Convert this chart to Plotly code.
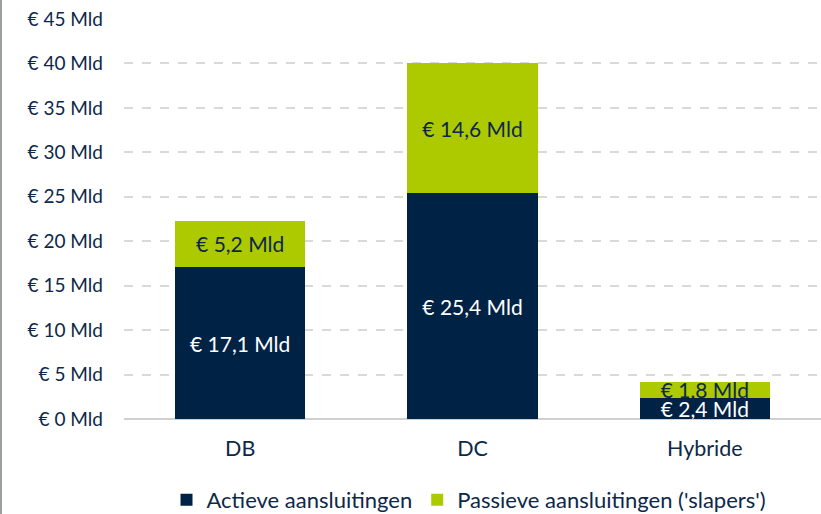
import plotly.graph_objects as go

categories = ["DB", "DC", "Hybride"]
actief = [17.1, 25.4, 2.4]
passief = [5.2, 14.6, 1.8]
series_names = ["Actieve aansluitingen", "Passieve aansluitingen ('slapers')"]
tick_vals = [0, 5, 10, 15, 20, 25, 30, 35, 40, 45]
tick_text = [f"€ {v} Mld" for v in tick_vals]

def fmt(v):
    return "€ " + f"{v:.1f}".replace(".", ",") + " Mld"

NAVY = "#002245"
GREEN = "#adca00"
TEXT = "#0d2849"
FONT = "Lato"

fig = go.Figure()
fig.add_trace(go.Bar(
    x=categories, y=actief, name=series_names[0],
    marker=dict(color=NAVY, line=dict(width=0)),
    text=[fmt(v) for v in actief], textposition="inside",
    insidetextanchor="middle",
    textfont=dict(color="white", size=21, family=FONT),
    width=0.56,
))
fig.add_trace(go.Bar(
    x=categories, y=passief, name=series_names[1],
    marker=dict(color=GREEN, line=dict(width=0)),
    text=[fmt(v) for v in passief], textposition="inside",
    insidetextanchor="middle",
    textfont=dict(color=TEXT, size=21, family=FONT),
    width=0.56,
))

fig.update_layout(
    barmode="stack",
    width=821, height=514,
    margin=dict(l=124, r=0, t=19, b=95, autoexpand=False),
    paper_bgcolor="white", plot_bgcolor="white",
    font=dict(family=FONT, size=19, color=TEXT),
    uniformtext=dict(minsize=21, mode="show"),
    showlegend=True,
    legend=dict(orientation="h", x=0.495, xanchor="center", y=-0.2025, yanchor="middle",
                font=dict(size=22, color=TEXT), traceorder="normal",
                itemwidth=30, tracegroupgap=0),
    xaxis=dict(showgrid=False, showline=False, ticks="", range=[-0.5, 2.5],
               automargin=False,
               tickfont=dict(size=21.5, color=TEXT), ticklabelstandoff=14),
    yaxis=dict(range=[0, 45], tickvals=tick_vals, ticktext=tick_text,
               automargin=False,
               showgrid=True, gridcolor="#d9d9d9", griddash="dash", gridwidth=1.5,
               zeroline=True, zerolinecolor="#d0d0d0", zerolinewidth=2,
               showline=False, ticks="", ticklabelstandoff=20,
               tickfont=dict(size=19, color=TEXT)),
    shapes=[dict(type="line", xref="paper", yref="paper",
                 x0=-123/697, x1=-123/697, y0=-95/400, y1=1 + 19/400,
                 line=dict(color="#9aa0a0", width=2))],
)

fig.write_html("out.html",
               config={"displayModeBar": False},
               post_script="document.body.style.margin='0';document.body.style.overflow='hidden';")
